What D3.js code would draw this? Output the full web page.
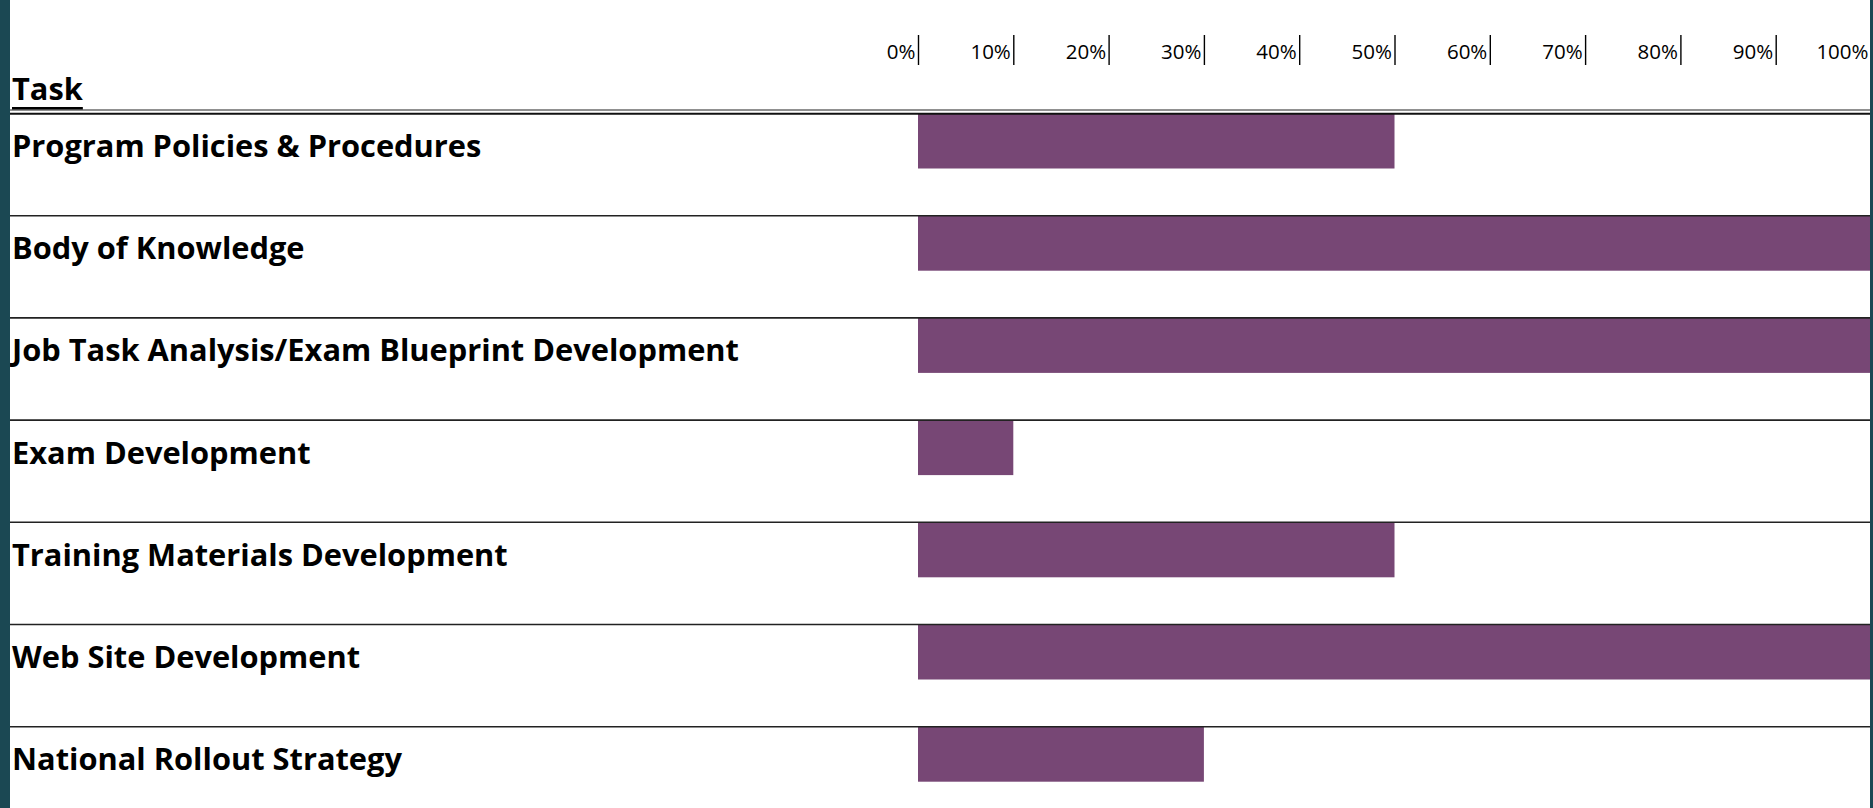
<!DOCTYPE html>
<html>
<head>
<meta charset="utf-8">
<script src="https://cdn.jsdelivr.net/npm/d3@7"></script>
<style>
  html, body { margin: 0; padding: 0; background: #ffffff; }
  svg { display: block; }
</style>
</head>
<body>
<svg id="chart" width="1873" height="808"></svg>
<script>
// ---- data ----
const tasks = [
  "Program Policies & Procedures",
  "Body of Knowledge",
  "Job Task Analysis/Exam Blueprint Development",
  "Exam Development",
  "Training Materials Development",
  "Web Site Development",
  "National Rollout Strategy"
];
const progress = [0.5, 1.0, 1.0, 0.1, 0.5, 1.0, 0.3];
const tickValues = [0, 0.1, 0.2, 0.3, 0.4, 0.5, 0.6, 0.7, 0.8, 0.9, 1.0];
const headerLabel = "Task";

// ---- layout ----
const W = 1873, H = 808;
const svg = d3.select("#chart");
const teal = "#1b4853";
const barColor = "#774775";
const labelFont = "'Open Sans', 'Noto Sans', sans-serif";

const x = d3.scaleLinear().domain([0, 1]).range([918, 1871]);
const y = d3.scaleBand().domain(tasks).range([113.5, 113.5 + 102.2 * tasks.length]).paddingInner(0).paddingOuter(0);
const barH = 55;

svg.append("rect").attr("x", 0).attr("y", 0).attr("width", W).attr("height", H).attr("fill", "#fff");

// bars
svg.append("g").selectAll("rect")
  .data(tasks)
  .join("rect")
  .attr("x", x(0))
  .attr("y", d => y(d))
  .attr("width", (d, i) => x(progress[i]) - x(0))
  .attr("height", barH)
  .attr("fill", barColor);

// row separator lines
svg.append("g").selectAll("line")
  .data(tasks.slice(1))
  .join("line")
  .attr("x1", 10).attr("x2", 1870)
  .attr("y1", d => y(d)).attr("y2", d => y(d))
  .attr("stroke", "#222").attr("stroke-width", 1.6);

// header double line
svg.append("line").attr("x1", 10).attr("x2", 1870).attr("y1", 110).attr("y2", 110)
  .attr("stroke", "#222").attr("stroke-width", 1.2);
svg.append("line").attr("x1", 10).attr("x2", 1870).attr("y1", 113.7).attr("y2", 113.7)
  .attr("stroke", "#111").attr("stroke-width", 2);

// row labels
svg.append("g").selectAll("text")
  .data(tasks)
  .join("text")
  .attr("x", 12)
  .attr("y", d => y(d) + 43.5)
  .attr("font-family", labelFont)
  .attr("font-weight", "bold")
  .attr("font-size", 30.8)
  .attr("fill", "#000")
  .text(d => d);

// header
const head = svg.append("text")
  .attr("x", 12).attr("y", 100)
  .attr("font-family", labelFont)
  .attr("font-weight", "bold")
  .attr("font-size", 30.8)
  .attr("fill", "#000")
  .text(headerLabel);
const headLen = head.node().getComputedTextLength();
svg.append("line")
  .attr("x1", 12).attr("x2", 12 + headLen)
  .attr("y1", 108.2).attr("y2", 108.2)
  .attr("stroke", "#000").attr("stroke-width", 2.6);

// top axis
const axis = d3.axisTop(x).tickValues(tickValues).tickFormat(d3.format(".0%")).tickSize(0);
const ax = svg.append("g").attr("transform", "translate(0,65)").call(axis);
ax.select(".domain").remove();
ax.selectAll(".tick line")
  .attr("y1", -30).attr("y2", 0)
  .attr("stroke", "#000").attr("stroke-width", 1.4);
ax.selectAll(".tick text")
  .attr("text-anchor", "end")
  .attr("x", -3).attr("y", -6).attr("dy", 0)
  .attr("font-family", labelFont)
  .attr("font-size", 20.5)
  .attr("fill", "#000");

// side borders
svg.append("rect").attr("x", 0).attr("y", 0).attr("width", 10).attr("height", H).attr("fill", teal);
svg.append("rect").attr("x", 1870).attr("y", 0).attr("width", 3).attr("height", H).attr("fill", teal);
</script>
</body>
</html>
